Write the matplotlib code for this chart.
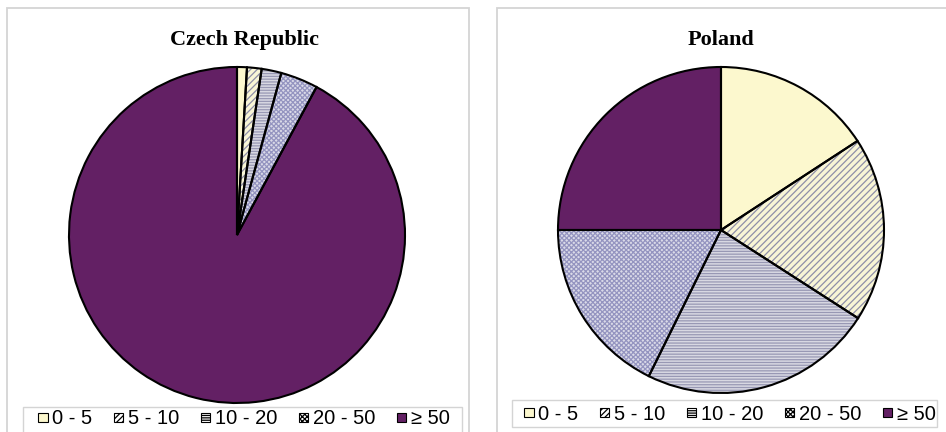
import matplotlib
matplotlib.use("Agg")
import matplotlib.pyplot as plt
from matplotlib.patches import Patch, Rectangle

# Share of each size class (percent)
categories = ["0 - 5", "5 - 10", "10 - 20", "20 - 50", "\u2265 50"]
czech_values = [0.95, 1.4, 1.9, 3.6, 92.15]
poland_values = [15.8, 18.3, 23.2, 17.7, 25.0]

face_colors = ["#FCF8CE", "#F8F5D6", "#D8D8E2", "#DADAE8", "#632064"]
hatch_colors = ["#FCF8CE", "#8E8EA8", "#9898B4", "#9494C0", "#632064"]
hatches = [None, "/" * 5, "-" * 6, "x" * 7, None]

W, H = 946, 432
plt.rcParams["hatch.linewidth"] = 0.9

fig = plt.figure(figsize=(W / 100, H / 100), dpi=100)


def fx(x):
    return x / W


def fy(y):
    return 1 - y / H


def panel_frame(x0, y0, x1, y1, color="#D4D4D4", lw=1.3):
    fig.add_artist(Rectangle((fx(x0), fy(y1)), fx(x1) - fx(x0), fy(y0) - fy(y1),
                             transform=fig.transFigure, fill=False,
                             edgecolor=color, linewidth=lw, clip_on=False))


def draw_pie(values, cx, cy, r):
    ax = fig.add_axes([fx(cx - r), fy(cy + r), (2 * r) / W, (2 * r) / H])
    # filled, hatched wedges
    wedges, _ = ax.pie(values, startangle=90, counterclock=False,
                       colors=face_colors,
                       wedgeprops=dict(linewidth=0))
    for w, h, hc in zip(wedges, hatches, hatch_colors):
        w.set_edgecolor(hc)
        w.set_linewidth(0)
        if h:
            w.set_hatch(h)
        w.set_clip_on(False)
    # black outlines on top
    outlines, _ = ax.pie(values, startangle=90, counterclock=False,
                         wedgeprops=dict(fill=False, edgecolor="black",
                                         linewidth=1.5))
    for w in outlines:
        w.set_clip_on(False)
    ax.set_xlim(-1, 1)
    ax.set_ylim(-1, 1)
    ax.set_aspect("auto")
    ax.axis("off")
    return ax


def draw_legend(x0, y0, x1, y1, ycenter, xcenter):
    panel_frame(x0, y0, x1, y1, color="#D4D4D4", lw=1.0)
    handles = [Patch(facecolor=fc, edgecolor="black", hatch=h, linewidth=0.8)
               for fc, h in zip(["#FCF8CE", "#FFFFFF", "#FFFFFF", "#FFFFFF", "#632064"],
                                [None, "/" * 6, "-" * 7, "x" * 7, None])]
    fig.legend(handles, categories, loc="center",
               bbox_to_anchor=(fx(xcenter), fy(ycenter)),
               ncol=5, frameon=False, handlelength=0.45, handleheight=0.32,
               handletextpad=0.22, columnspacing=1.1,
               prop=dict(family="Liberation Sans", size=14.5))


# panel frames
panel_frame(7, 8, 469, 440)
panel_frame(497, 8, 960, 440)

draw_pie(czech_values, 237, 235, 168)
draw_pie(poland_values, 721, 230, 163)

title_font = dict(family="Liberation Serif", weight="bold", size=16)
fig.text(fx(244), fy(40), "Czech Republic", ha="center", va="center", **title_font)
fig.text(fx(721), fy(40), "Poland", ha="center", va="center", **title_font)

draw_legend(23, 407, 462, 440, 419, 244)
draw_legend(512, 400, 937, 427, 414, 730)

fig.savefig("out.png", dpi=100)
